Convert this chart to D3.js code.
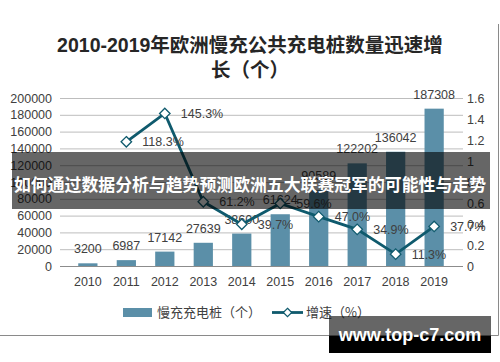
<!DOCTYPE html>
<html>
<head>
<meta charset="utf-8">
<script src="https://cdn.jsdelivr.net/npm/d3@7"></script>
<style>
body { margin: 0; background: #fff; }
svg { display: block; font-family: "Liberation Sans", Arial, "Noto Sans CJK SC", sans-serif; }
</style>
</head>
<body>
<script>
const years = ["2010","2011","2012","2013","2014","2015","2016","2017","2018","2019"];
const piles = [3200, 6987, 17142, 27639, 38600, 61624, 90589, 122202, 136042, 187308];
const growthYears = ["2011","2012","2013","2014","2015","2016","2017","2018","2019"];
const growth = [1.183, 1.453, 0.612, 0.397, 0.596, 0.470, 0.349, 0.113, 0.377];
const growthLabels = ["118.3%","145.3%","61.2%","39.7%","59.6%","47.0%","34.9%","11.3%","37.7%"];
const leftTicks = [0, 20000, 40000, 60000, 80000, 100000, 120000, 140000, 160000, 180000, 200000];
const rightTicks = [0, 0.2, 0.4, 0.6, 0.8, 1, 1.2, 1.4, 1.6];

const svg = d3.select("body")
				.append("svg")
				.attr("width", 500)
				.attr("height", 362);

const barColor = "#5b8fa8";
const lineColor = "#0f5a6d";
const txt = "#404040";

// frame
svg.append("path")
	.attr("d", "M498.5,24V335.5H0")
	.attr("fill", "none")
	.attr("stroke", "#8a8a8a");

// title
svg.append("text")
	.attr("x", 250).attr("y", 52)
	.attr("text-anchor", "middle")
	.attr("font-size", 19.5).attr("font-weight", "bold")
	.attr("fill", "#262626")
	.text("2010-2019年欧洲慢充公共充电桩数量迅速增");
svg.append("text")
	.attr("x", 250).attr("y", 77)
	.attr("text-anchor", "middle")
	.attr("font-size", 19.5).attr("font-weight", "bold")
	.attr("fill", "#262626")
	.text("长（个）");

const x = d3.scaleBand().domain(years).range([59, 463]).padding(0.5);
const yL = d3.scaleLinear().domain([0, 200000]).range([266, 98]);
const yR = d3.scaleLinear().domain([0, 1.6]).range([266, 98]);

// left axis + grid
const gl = svg.append("g")
	.attr("transform", "translate(60,0)")
	.call(d3.axisLeft(yL).tickValues(leftTicks).tickSizeInner(-403).tickSizeOuter(0).tickPadding(8).tickFormat(d => d));
gl.select(".domain").remove();
gl.selectAll("line").attr("stroke", (d) => d === 0 ? "#8c8c8c" : "#bdbdbd");
gl.selectAll("text").attr("font-size", 12.5).attr("fill", txt).style("font-family", "Liberation Sans, Arial, sans-serif");

// right axis
const gr = svg.append("g")
	.attr("transform", "translate(463,0)")
	.call(d3.axisRight(yR).tickValues(rightTicks).tickSize(0).tickPadding(4).tickFormat(d => d));
gr.select(".domain").remove();
gr.selectAll("text").attr("font-size", 12.5).attr("fill", txt).style("font-family", "Liberation Sans, Arial, sans-serif");

// bottom axis
const gb = svg.append("g")
	.attr("transform", "translate(0,266)")
	.call(d3.axisBottom(x).tickSize(0).tickPadding(11));
gb.select(".domain").remove();
gb.selectAll("text").attr("font-size", 12.5).attr("fill", txt).style("font-family", "Liberation Sans, Arial, sans-serif");

// bars
svg.selectAll("rect.bar")
	.data(piles)
	.enter()
	.append("rect")
	.attr("class", "bar")
	.attr("x", (d, i) => x(years[i]))
	.attr("y", (d) => yL(d))
	.attr("width", x.bandwidth())
	.attr("height", (d) => yL(0) - yL(d))
	.attr("fill", barColor);

// redraw baseline over bars
svg.append("line")
	.attr("x1", 60).attr("x2", 463)
	.attr("y1", yL(0) + 0.5).attr("y2", yL(0) + 0.5)
	.attr("stroke", "#8c8c8c");

svg.selectAll("text.blab")
	.data(piles)
	.enter()
	.append("text")
	.attr("class", "blab")
	.attr("x", (d, i) => x(years[i]) + x.bandwidth() / 2)
	.attr("y", (d) => yL(d) - 10)
	.attr("text-anchor", "middle")
	.attr("font-size", 12.5)
	.attr("fill", txt)
	.text((d) => d);

// line
const cx = (i) => x(growthYears[i]) + x.bandwidth() / 2;
svg.append("path")
	.datum(growth)
	.attr("d", d3.line().x((d, i) => cx(i)).y((d) => yR(d)))
	.attr("fill", "none")
	.attr("stroke", lineColor)
	.attr("stroke-width", 2.8);

const diamond = d3.symbol().type(d3.symbolDiamond2).size(70);
svg.selectAll("path.mk")
	.data(growth)
	.enter()
	.append("path")
	.attr("class", "mk")
	.attr("d", diamond)
	.attr("transform", (d, i) => "translate(" + cx(i) + "," + yR(d) + ")")
	.attr("fill", "#fff")
	.attr("stroke", lineColor)
	.attr("stroke-width", 1.3);

svg.selectAll("text.glab")
	.data(growth)
	.enter()
	.append("text")
	.attr("class", "glab")
	.attr("x", (d, i) => cx(i) + 16)
	.attr("y", (d) => yR(d) + 4.5)
	.attr("font-size", 12.5)
	.attr("fill", txt)
	.text((d, i) => growthLabels[i]);

// legend
const lg = svg.append("g").attr("font-size", 13).attr("fill", txt)
	.style("font-family", "Noto Sans CJK SC, sans-serif");
lg.append("rect").attr("x", 123).attr("y", 308).attr("width", 29).attr("height", 9).attr("fill", barColor);
lg.append("text").attr("x", 157).attr("y", 317).text("慢充充电桩（个）");
lg.append("line").attr("x1", 272).attr("x2", 303).attr("y1", 312.5).attr("y2", 312.5)
	.attr("stroke", lineColor).attr("stroke-width", 2.8);
lg.append("path").attr("d", d3.symbol().type(d3.symbolDiamond2).size(45))
	.attr("transform", "translate(287.5,312.5)")
	.attr("fill", "#fff").attr("stroke", lineColor).attr("stroke-width", 1.2);
lg.append("text").attr("x", 306).attr("y", 317).text("增速（%）");

// overlay banner
svg.append("rect")
	.attr("x", 12).attr("y", 152).attr("width", 478).attr("height", 57)
	.attr("fill", "rgba(0,0,0,0.6)");
svg.append("text")
	.attr("x", 14).attr("y", 191)
	.attr("textLength", 472).attr("lengthAdjust", "spacingAndGlyphs")
	.attr("font-size", 17.5).attr("font-weight", "bold")
	.attr("fill", "#fff")
	.style("font-family", "Noto Sans CJK SC, sans-serif")
	.text("如何通过数据分析与趋势预测欧洲五大联赛冠军的可能性与走势");

// watermark
svg.append("rect").attr("x", 329).attr("y", 316).attr("width", 162).attr("height", 20).attr("fill", "rgba(0,0,0,0.6)");
svg.append("rect").attr("x", 329).attr("y", 336).attr("width", 162).attr("height", 17).attr("fill", "#000");
svg.append("text")
	.attr("x", 410).attr("y", 341)
	.attr("text-anchor", "middle")
	.attr("font-size", 18).attr("font-weight", "bold")
	.attr("fill", "#fff")
	.style("font-family", "Liberation Sans, Arial, sans-serif")
	.text("www.top-c7.com");
</script>
</body>
</html>
